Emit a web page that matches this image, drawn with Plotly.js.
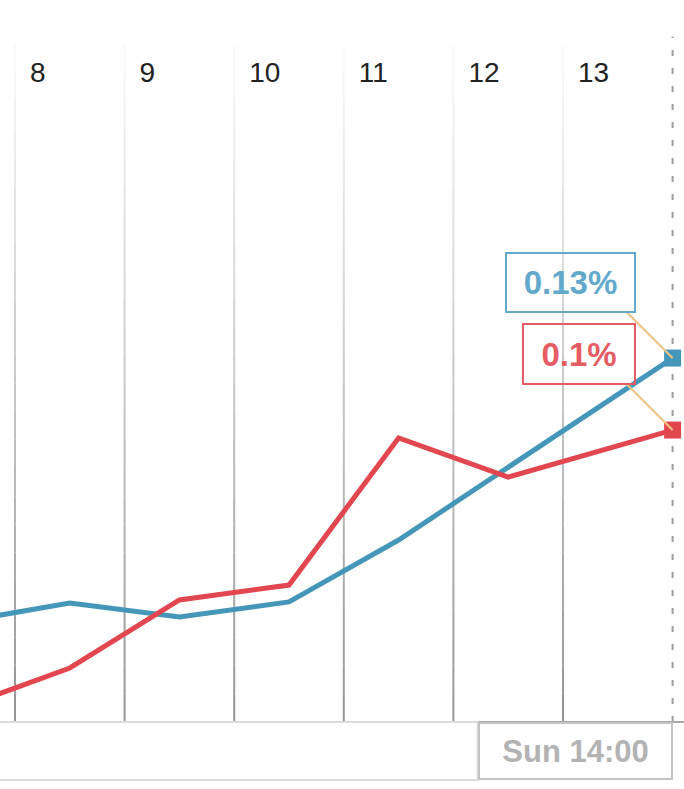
<!DOCTYPE html>
<html>
<head>
<meta charset="utf-8">
<script src="https://cdn.plot.ly/plotly-3.0.1.min.js"></script>
<style>html,body{margin:0;padding:0;background:#fff;}#chart{width:684px;height:789px;}</style>
</head>
<body>
<div id="chart"></div>
<script>
// ---- data ----
const hours = [7.5, 8.5, 9.5, 10.5, 11.5, 12.5, 14];
const blueVals = [0.0357, 0.0425, 0.0375, 0.0429, 0.065, 0.091, 0.130];
const redVals = [0.0048, 0.0185, 0.0418, 0.0469, 0.0973, 0.0839, 0.100];
const tickVals = [8, 9, 10, 11, 12, 13];
const tickText = ['8', '9', '10', '11', '12', '13'];
const endLabel = 'Sun 14:00';

// ---- styles ----
const BLUE = '#4597ba';
const RED = '#e2474f';
const BLUE_TXT = '#62a9cb';
const RED_TXT = '#e65c64';
const FONT = 'Liberation Sans, Arial, Helvetica, sans-serif';
const last = hours.length - 1;
const fmt = v => String(Math.round(v * 100) / 100) + '%';

const traces = [
  {x: hours, y: blueVals, type: 'scatter', mode: 'lines', yaxis: 'y',
   line: {color: BLUE, width: 5}, hoverinfo: 'skip'},
  {x: hours, y: redVals, type: 'scatter', mode: 'lines', yaxis: 'y2',
   line: {color: RED, width: 5}, hoverinfo: 'skip'},
  {x: [hours[last]], y: [blueVals[last]], type: 'scatter', mode: 'markers', yaxis: 'y',
   marker: {symbol: 'square', size: 17, color: BLUE}, cliponaxis: false, hoverinfo: 'skip'},
  {x: [hours[last]], y: [redVals[last]], type: 'scatter', mode: 'markers', yaxis: 'y2',
   marker: {symbol: 'square', size: 17, color: RED}, cliponaxis: false, hoverinfo: 'skip'}
];

// gradient gridlines (darker at bottom, fading out toward the top)
const shapes = [];
const SEG = 24, TOP = 0.938;
tickVals.forEach(v => {
  for (let i = 0; i < SEG; i++) {
    const y0 = TOP * i / SEG, y1 = TOP * (i + 1) / SEG;
    const t = (i + 0.5) / SEG; // 0 bottom -> 1 top
    const g = Math.round(148 + 104 * t);
    shapes.push({type: 'line', xref: 'x', yref: 'paper', x0: v, x1: v, y0: y0, y1: y1,
      line: {color: `rgb(${g},${g},${g})`, width: 2}, layer: 'below'});
  }
});
// current-time dashed line
shapes.push({type: 'line', xref: 'x', yref: 'paper', x0: hours[last], x1: hours[last], y0: 0, y1: 0.949,
  line: {color: '#9c9c9c', width: 2, dash: '6px,12px'}, layer: 'below'});
// bottom axis line
shapes.push({type: 'line', xref: 'paper', yref: 'paper', x0: 0, x1: 1, y0: 0, y1: 0,
  line: {color: '#a8a8a8', width: 2}, layer: 'above'});
// navigator box left of the time label
shapes.push({type: 'rect', xref: 'x', xsizemode: 'pixel', xanchor: hours[last], x0: -700, x1: -195,
  yref: 'paper', ysizemode: 'pixel', yanchor: 0, y0: -58, y1: 0,
  line: {color: '#dcdcdc', width: 2}, fillcolor: 'rgba(0,0,0,0)', layer: 'above'});
// connectors from value boxes to end points
shapes.push({type: 'line', xref: 'x', xsizemode: 'pixel', xanchor: hours[last], x0: -46, x1: 0,
  yref: 'y', ysizemode: 'pixel', yanchor: blueVals[last], y0: 46, y1: 0,
  line: {color: '#f0c383', width: 2}, layer: 'above'});
shapes.push({type: 'line', xref: 'x', xsizemode: 'pixel', xanchor: hours[last], x0: -46, x1: 0,
  yref: 'y2', ysizemode: 'pixel', yanchor: redVals[last], y0: 46, y1: 0,
  line: {color: '#f0c383', width: 2}, layer: 'above'});

const annotations = [
  {x: hours[last], y: blueVals[last], xref: 'x', yref: 'y', text: fmt(blueVals[last]),
   showarrow: false, xanchor: 'right', yanchor: 'bottom', xshift: -37, yshift: 45,
   bordercolor: BLUE_TXT, borderwidth: 2, borderpad: 3, width: 121, height: 51,
   font: {family: FONT, size: 33, color: BLUE_TXT, weight: 'bold'}},
  {x: hours[last], y: redVals[last], xref: 'x', yref: 'y2', text: fmt(redVals[last]),
   showarrow: false, xanchor: 'right', yanchor: 'bottom', xshift: -37, yshift: 45,
   bordercolor: RED_TXT, borderwidth: 2, borderpad: 3, width: 104, height: 52,
   font: {family: FONT, size: 33, color: RED_TXT, weight: 'bold'}},
  {x: hours[last], y: 0, xref: 'x', yref: 'paper', text: endLabel,
   showarrow: false, xanchor: 'right', yanchor: 'top',
   bordercolor: '#c4c4c4', borderwidth: 2, borderpad: 0, width: 191, height: 54,
   font: {family: FONT, size: 31, color: '#b3b3b3', weight: 'bold'}}
];

const layout = {
  width: 684, height: 789,
  margin: {l: 0, r: 0, t: 0, b: 67, pad: 0},
  paper_bgcolor: '#fff', plot_bgcolor: '#fff',
  showlegend: false,
  xaxis: {range: [7.8631, 14.104], side: 'top', tickmode: 'array', tickvals: tickVals, ticktext: tickText,
    ticklabelposition: 'inside right', ticklabelstandoff: 56, ticklabelshift: 15,
    ticks: '', showgrid: false, zeroline: false, showline: false,
    tickfont: {family: FONT, size: 28, color: '#222'}, fixedrange: true},
  yaxis: {range: [0, 0.2579], visible: false, fixedrange: true},
  yaxis2: {range: [0, 0.2473], overlaying: 'y', visible: false, fixedrange: true},
  shapes: shapes,
  annotations: annotations
};

Plotly.newPlot('chart', traces, layout, {displayModeBar: false, staticPlot: true});
</script>
</body>
</html>
